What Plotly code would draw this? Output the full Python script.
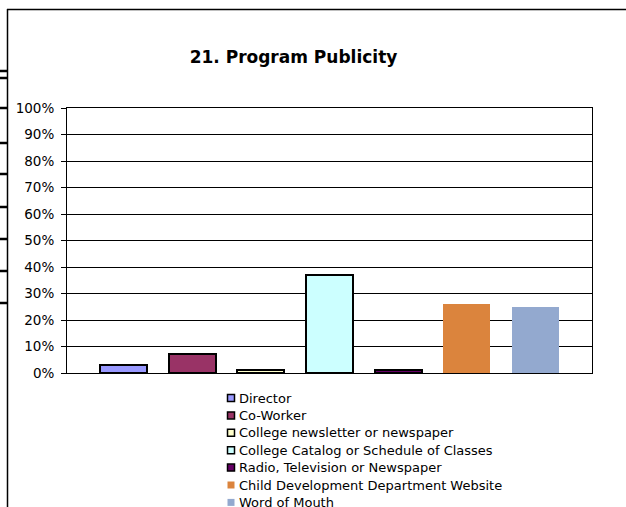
import plotly.graph_objects as go

# Data
series = ['Director', 'Co-Worker', 'College newsletter or newspaper',
          'College Catalog or Schedule of Classes', 'Radio, Television or Newspaper',
          'Child Development Department Website', 'Word of Mouth']
values = [0.03, 0.07, 0.01, 0.37, 0.01, 0.26, 0.25]
colors = ['#9999FF', '#993366', '#FFFFCC', '#CCFFFF', '#660066', '#DB843D', '#93A9CF']
outlined = [True, True, True, True, True, False, False]
y_ticks = [i / 10 for i in range(11)]

W, H = 626, 507
L, R, T, B = 67, 592, 108, 373  # plot area in pixels
FONT = 'DejaVu Sans, Verdana, sans-serif'


def px(x):
    return (x - L) / (R - L)


def py(y):
    return (B - y) / (B - T)


fig = go.Figure()
for i, (name, val, col, ol) in enumerate(zip(series, values, colors, outlined)):
    fig.add_trace(go.Bar(
        x=[i], y=[val], name=name, width=0.686,
        marker=dict(color=col, line=dict(color='black', width=2 if ol else 0)),
    ))

shapes = [
    # outer chart frame (top + left edges visible)
    dict(type='line', xref='paper', yref='paper', x0=px(7), x1=px(640), y0=py(9.5), y1=py(9.5),
         line=dict(color='black', width=1.5)),
    dict(type='line', xref='paper', yref='paper', x0=px(7.5), x1=px(7.5), y0=py(9), y1=py(520),
         line=dict(color='black', width=1.5)),
]
# stubs of a chart behind, peeking out on the left edge
for yy in [71, 78, 108, 143, 174, 207, 239, 271, 303]:
    shapes.append(dict(type='line', xref='paper', yref='paper', x0=px(-2), x1=px(7),
                       y0=py(yy), y1=py(yy), line=dict(color='black', width=2.5)))

# legend drawn by hand to get the tight Excel row spacing
annotations = []
for k, (name, col, ol) in enumerate(zip(series, colors, outlined)):
    yc = 398 + 17.4 * k
    shapes.append(dict(type='rect', xref='paper', yref='paper',
                       x0=px(227.5), x1=px(234.5), y0=py(yc - 3.5), y1=py(yc + 3.5),
                       fillcolor=col, line=dict(color='black', width=1.5 if ol else 0)))
    annotations.append(dict(text=name, xref='paper', yref='paper', x=px(237), y=py(yc),
                            xanchor='left', yanchor='middle', showarrow=False,
                            font=dict(size=13)))

fig.update_layout(
    width=W, height=H,
    margin=dict(l=L, r=W - R, t=T, b=H - B, pad=0, autoexpand=False),
    paper_bgcolor='white', plot_bgcolor='white',
    font=dict(family=FONT, size=13, color='black'),
    title=dict(text='<b>21. Program Publicity</b>', x=293.5 / W, xanchor='center',
               y=1 - 57 / H, yanchor='middle', font=dict(size=17)),
    xaxis=dict(range=[-0.83, 6.83], showticklabels=False, showgrid=False, zeroline=False,
               showline=True, linecolor='black', linewidth=1, mirror=True, ticks=''),
    yaxis=dict(range=[0, 1], tickvals=y_ticks, tickformat='.0%', showgrid=True,
               gridcolor='black', gridwidth=1, zeroline=False, showline=True,
               linecolor='black', linewidth=1, mirror=True, ticks='outside',
               ticklen=5, tickcolor='black', ticklabelstandoff=4,
               tickfont=dict(size=13.5)),
    showlegend=False,
    shapes=shapes,
    annotations=annotations,
    bargap=0,
)

# drop the default 8px page margin so the figure sits at the window corner
fig.write_html("out.html", config={'displayModeBar': False},
               post_script="document.body.style.margin='0';")
